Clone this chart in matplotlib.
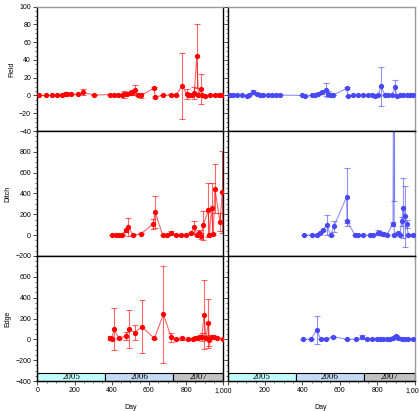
import matplotlib
matplotlib.use('Agg')
import matplotlib.pyplot as plt
import numpy as np
from matplotlib.ticker import MultipleLocator, FuncFormatter
from matplotlib.patches import Rectangle

plt.rcParams['font.family'] = ['Liberation Sans', 'DejaVu Sans']

# Field, red (left column)
field_r_day = [11, 47, 77, 104, 131, 149, 158, 181, 221, 244, 307, 391, 414, 436, 454, 468, 484, 502, 511, 525,
               540, 558, 629, 633, 678, 719, 744, 780, 803, 817, 830, 844, 857, 866, 880, 884, 902, 929, 955, 975,
               991, 1000]
field_r_val = [0, 0, 0, 0.5, 0.5, 1.5, 2, 1.5, 1.5, 3.5, 0.5, 1, 0.5, 0, 1, 1.5, 2, 3, 4, 6,
               0, 0, 8.5, -1.5, 0, 1, 0, 11, 1.5, 0.5, 1, 2.5, 44, 0.5, 7, 1, -0.5, 0.5, 0, 0.5,
               1, 1]
field_r_err = [0, 0, 0, 0, 0, 0.5, 1, 0.5, 0, 3.5, 0, 0.5, 0.5, 0, 0.5, 4, 1, 2, 2, 6,
               1, 3, 1, 1, 0, 0.5, 0.5, 37, 6, 2, 1, 7, 36, 1, 17, 1, 1, 0.5, 0, 0,
               1, 1]

# Field, blue (right column)
field_b_day = [13, 31, 52, 76, 103, 117, 138, 156, 174, 192, 218, 236, 259, 281, 397, 414, 450, 468, 486, 504,
               527, 539, 553, 566, 637, 646, 673, 700, 726, 753, 771, 789, 806, 821, 842, 860, 878, 896, 905, 922,
               940, 958, 976, 994]
field_b_val = [0, 0, 1, 0, -0.5, 1, 4, 2, 1, 0.5, 0.5, 1, 1, 0.5, 0, -0.5, 0, 1, 2, 3.5,
               6.5, 1.5, 0, 0.5, 8, -1, 0, 0, 0, 0, 0, -0.5, 0.5, 10.5, 0, 0.5, 0, 9, -0.5, 0.5,
               0, 0.5, 0, 0.5]
field_b_err = [0, 0, 0, 0, 0, 0, 2, 1, 0, 0, 0, 0, 0, 0, 0, 0, 0, 0, 1, 2,
               7, 3, 0, 0, 1, 0, 0, 0, 0, 0, 0, 0, 1, 22, 0, 0, 0, 9, 1, 0,
               0, 0, 0, 0]

# Ditch
ditch_r_day = [400, 421, 439, 457, 475, 489, 516, 557, 624, 633, 674, 696, 719, 746, 773, 800, 827, 844, 857, 871,
               880, 892, 919, 925, 937, 946, 955, 982, 995]
ditch_r_val = [0, 0, 0, 5, 45, 77, 0, 13, 109, 225, 0, 0, 25, 0, 0, 0, 20, 77, 5, 25,
               -10, 93, 238, 0, 261, 10, 445, 125, 412]
ditch_r_err = [0, 0, 0, 5, 15, 87, 0, 5, 50, 155, 0, 5, 15, 0, 0, 0, 10, 63, 10, 25,
               30, 135, 260, 5, 240, 10, 235, 85, 395]

ditch_b_day = [409, 450, 477, 495, 512, 530, 552, 569, 637, 640, 682, 700, 726, 762, 780, 803, 816, 833, 851, 885,
               888, 892, 910, 922, 931, 940, 949, 958, 967, 994]
ditch_b_val = [0, 0, 0, 19, 51, 100, 0, 84, 368, 132, 0, 0, 0, 0, 0, 25, 20, 10, 0, 110,
               1400, 0, 19, 0, 132, 261, 180, 110, 0, 0]
ditch_b_err = [0, 0, 0, 5, 10, 96, 5, 55, 280, 15, 0, 0, 0, 0, 0, 20, 10, 20, 0, 20,
               1075, 10, 10, 0, 40, 290, 290, 40, 5, 0]

# Edge
edge_r_day = [391, 400, 412, 439, 475, 495, 525, 561, 629, 678, 720, 746, 776, 808, 836, 848, 866, 875, 884, 897,
              906, 920, 925, 937, 952, 966, 998]
edge_r_val = [10, 0, 97, 10, 32, 97, 64, 122, 10, 241, 20, 0, 10, 0, 0, 10, 15, 20, 20, 235,
              10, 155, -10, 20, 20, 15, 0]
edge_r_err = [20, 10, 200, 5, 40, 180, 70, 255, 5, 465, 45, 5, 15, 5, 5, 10, 15, 20, 40, 332,
              10, 234, 50, 15, 15, 5, 5]

edge_b_day = [402, 446, 477, 498, 527, 566, 637, 685, 721, 744, 771, 798, 815, 833, 851, 869, 887, 901, 914, 932,
              949, 967, 994]
edge_b_val = [0, 0, 90, 5, 5, 25, 0, 0, 20, 0, 0, 5, 5, 5, 5, 8, 15, 35, 15, 5,
              0, 0, 0]
edge_b_err = [0, 0, 135, 0, 5, 10, 0, 0, 20, 0, 0, 5, 0, 0, 5, 0, 10, 10, 5, 0,
              0, 0, 0]

# year bands along the bottom
years = ['2005', '2006', '2007']
year_start = [0, 365, 730]
year_end = [365, 730, 1000]
year_colors = ['#c2fdfd', '#c4dbf5', '#c2c2c2']

row_names = ['Field', 'Ditch', 'Edge']
row_ylim = [(-40, 100), (-200, 1000), (-400, 800)]
row_minor = [5, 50, 50]
row_ticks = [np.arange(-40, 101, 20), np.arange(-200, 801, 200), np.arange(-400, 601, 200)]

red = '#ff0000'
blue = '#4848f4'

data = [
    [(field_r_day, field_r_val, field_r_err), (field_b_day, field_b_val, field_b_err)],
    [(ditch_r_day, ditch_r_val, ditch_r_err), (ditch_b_day, ditch_b_val, ditch_b_err)],
    [(edge_r_day, edge_r_val, edge_r_err), (edge_b_day, edge_b_val, edge_b_err)],
]

W, H = 419, 411
fig = plt.figure(figsize=(W / 100, H / 100), dpi=100)

col_x = [37.3, 227.5]
col_w = [186, 187]
row_top = [6.7, 131, 256]
row_h = [124.3, 125, 125]

fmt_left = FuncFormatter(lambda v, p: f'{v:,.0f}')
# right column hides its 0, the left 1,000 sits there
fmt_right = FuncFormatter(lambda v, p: '' if v == 0 else f'{v:,.0f}')

for r in range(3):
    for c in range(2):
        ax = fig.add_axes([col_x[c] / W, 1 - (row_top[r] + row_h[r]) / H, col_w[c] / W, row_h[r] / H])
        day, val, err = data[r][c]
        color = red if c == 0 else blue
        ax.errorbar(day, val, yerr=err, color=color, alpha=0.6, lw=0.8, elinewidth=0.8,
                    capsize=2, capthick=0.8, zorder=2)
        ax.plot(day, val, 'o', color=color, ms=3.8, mec='none', zorder=3)

        ax.set_xlim(0, 1000)
        ax.set_ylim(*row_ylim[r])
        ax.xaxis.set_major_locator(MultipleLocator(200))
        ax.xaxis.set_minor_locator(MultipleLocator(50))
        ax.set_yticks(row_ticks[r])
        ax.yaxis.set_minor_locator(MultipleLocator(row_minor[r]))
        ax.tick_params(which='major', direction='out', length=3, width=0.5, labelsize=5, pad=1.5)
        ax.tick_params(which='minor', direction='out', length=1.5, width=0.4)
        ax.xaxis.set_major_formatter(fmt_left if c == 0 else fmt_right)

        for s in ax.spines.values():
            s.set_linewidth(1.0)
        if r == 0:
            ax.spines['top'].set_color('#999999')
        if c == 1:
            ax.spines['right'].set_color('#999999')
            ax.set_yticklabels([])
        else:
            ax.set_ylabel(row_names[r], fontsize=5, labelpad=3)

        if r < 2:
            ax.set_xticklabels([])
        else:
            ax.set_xlabel('Day', fontsize=5, labelpad=7)
            ylo = row_ylim[r][0]
            for y0, y1, name, col in zip(year_start, year_end, years, year_colors):
                ax.add_patch(Rectangle((y0, ylo), y1 - y0, 80, facecolor=col, edgecolor='black',
                                       lw=0.8, zorder=1, clip_on=False))
                ax.text((y0 + y1) / 2, ylo + 40, name, ha='center', va='center', fontsize=6.5,
                        family=['Liberation Serif', 'DejaVu Serif'], zorder=4)

fig.savefig('out.png', dpi=100)
